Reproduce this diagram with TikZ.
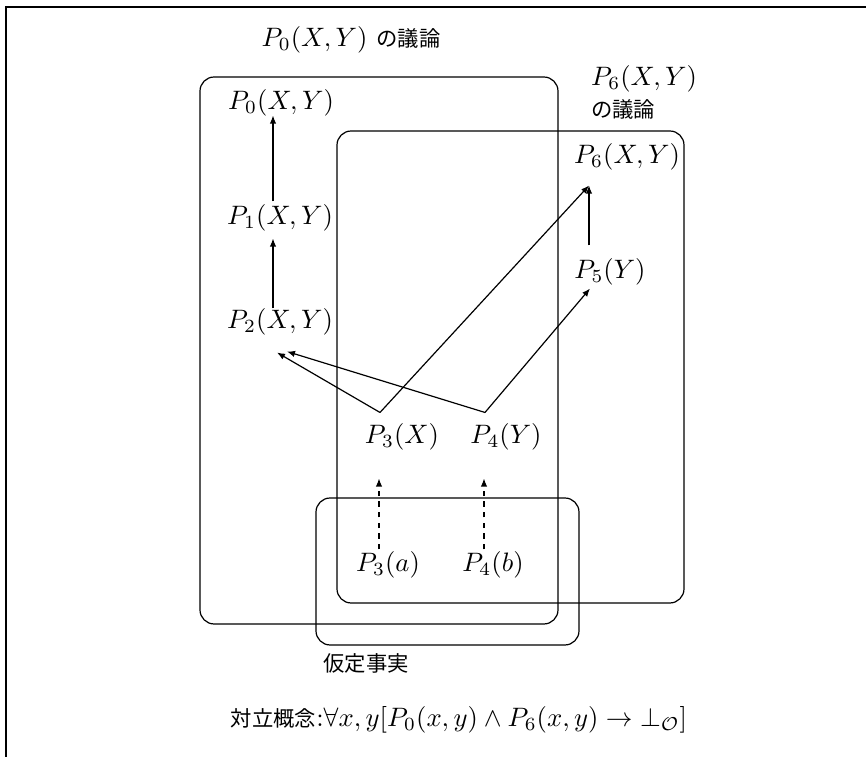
\documentclass[tikz,border=0pt]{standalone}
\usepackage{fontspec}
\newfontfamily\jp[Scale=0.8]{Noto Sans CJK JP}
\usetikzlibrary{arrows.meta}
\tikzset{
  lbl/.style={inner sep=1pt},
  box/.style={draw, line width=0.45pt, rounded corners=5.3pt},
  arr/.style={draw, line width=0.45pt, -{Latex[length=3pt,width=2.4pt]}},
  dasharr/.style={arr, dash pattern=on 2pt off 2pt},
  plain/.style={draw, line width=0.45pt},
}
\begin{document}
\begin{tikzpicture}[x=0.375pt,y=-0.375pt]
\useasboundingbox (0,0) rectangle (866,757);
% outer frame (clipped)
\draw[line width=0.75pt] (6,757) -- (6,7) -- (866,7);
% boxes
\draw[box] (200,77) rectangle (558,624);
\draw[box] (337,131) rectangle (684,603);
\draw[box] (316,498) rectangle (579,645);
% labels
\node[lbl] (title) at (351,40) {$P_0(X,Y)$ {\jp の議論}};
\node[lbl, align=left, anchor=west] (t6) at (588,92) {$P_6(X,Y)$\\{\jp の議論}};
\node[lbl] (hyp) at (366,663) {\jp 仮定事実};
\node[lbl] (opp) at (459,720) {{\jp 対立概念}:$\forall x,y[P_0(x,y)\land P_6(x,y)\to\bot_{\mathcal{O}}]$};
% nodes
\node[lbl] (P0) at (281,103) {$P_0(X,Y)$};
\node[lbl] (P1) at (280,218) {$P_1(X,Y)$};
\node[lbl] (P2) at (280,322) {$P_2(X,Y)$};
\node[lbl] (P6) at (627,157) {$P_6(X,Y)$};
\node[lbl] (P5) at (610,272) {$P_5(Y)$};
\node[lbl] (P3X) at (402,437) {$P_3(X)$};
\node[lbl] (P4Y) at (506,437) {$P_4(Y)$};
\node[lbl] (P3a) at (388,565) {$P_3(a)$};
\node[lbl] (P4b) at (493,565) {$P_4(b)$};
% junction points
\coordinate (j3) at ([shift={(-22,-8)}]P3X.north);
\coordinate (j4) at ([shift={(-21,-8)}]P4Y.north);
\coordinate (tip6) at ([shift={(-38,12)}]P6.south);
% connectors
\draw[arr] ([shift={(-7,0)}]P1.north) -- ([shift={(-8,-4)}]P0.south);
\draw[arr] ([shift={(-7,3)}]P2.north) -- ([shift={(-7,4)}]P1.south);
\draw[arr] ([shift={(-21,-10)}]P5.north) -- (tip6);
\draw[arr] (j3) -- ([shift={(-3,14)}]P2.south);
\draw[arr] (j4) -- ([shift={(7,13)}]P2.south);
\draw[arr] (j3) -- (tip6);
\draw[arr] (j4) -- ([shift={(-20,0)}]P5.south);
\draw[dasharr] ([shift={(-9,1)}]P3a.north) -- ([shift={(-23,25)}]P3X.south);
\draw[dasharr] ([shift={(-9,1)}]P4b.north) -- ([shift={(-22,25)}]P4Y.south);
\end{tikzpicture}
\end{document}
